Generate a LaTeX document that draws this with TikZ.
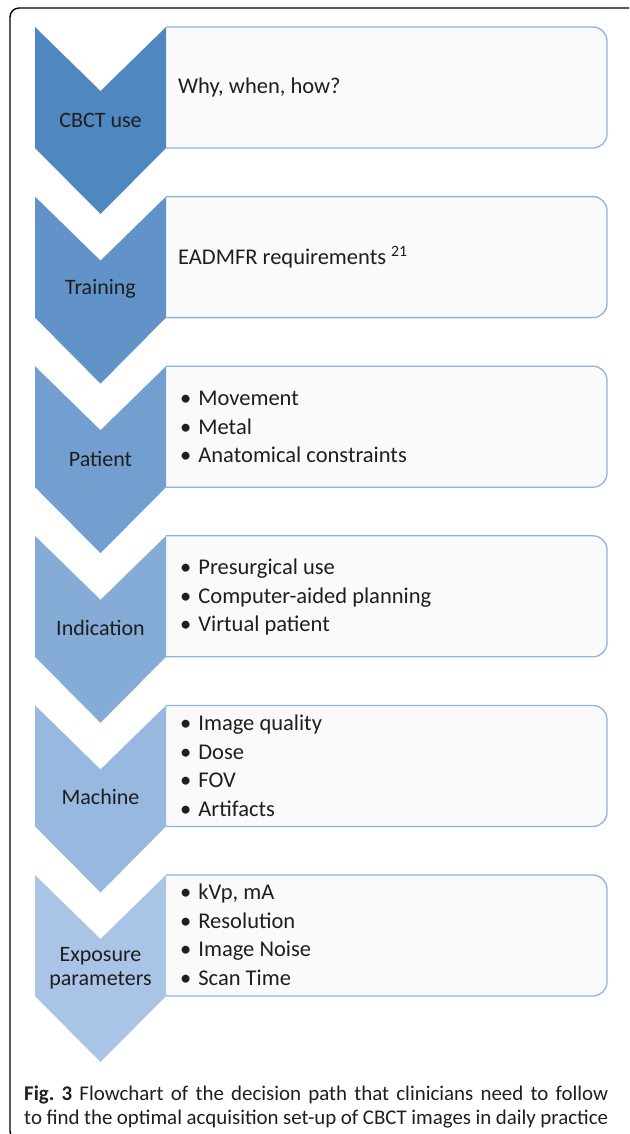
\documentclass[tikz,border=0pt]{standalone}
\usepackage{fontspec}
\setmainfont{Carlito}
\usepackage{tikz}
\frenchspacing

\definecolor{chevdark}{HTML}{4F87C1}
\definecolor{chevlight}{HTML}{A9C4E6}
\definecolor{boxline}{HTML}{8DB3E2}
\definecolor{boxfill}{HTML}{FAFAFA}
\definecolor{txt}{HTML}{1E1E1E}

\begin{document}
\begin{tikzpicture}[x=1pt,y=-1pt,
  box/.style={draw=boxline, line width=1.3pt, fill=boxfill},
  lbl/.style={font=\fontsize{22}{24}\selectfont, text=txt, align=center, inner sep=0pt},
  item/.style={font=\fontsize{22.5}{28.5}\selectfont, text=txt, align=left,
    anchor=west, inner sep=0pt},
  capt/.style={font=\fontsize{20.9}{24}\selectfont, text=txt, align=justify,
    text width=584pt, anchor=west, inner sep=0pt}]

  \clip (0,0) rectangle (629,1134);
  \draw[line width=1.4pt, rounded corners=9pt] (10,8) rectangle (650,1140);

  % boxes on the right
  \filldraw[box] (166,27) [rounded corners=14pt] -- (607,27) -- (607,148) -- (166,148);
  \filldraw[box] (166,196.6) [rounded corners=14pt] -- (607,196.6) -- (607,317.6) -- (166,317.6);
  \filldraw[box] (166,366.2) [rounded corners=14pt] -- (607,366.2) -- (607,487.2) -- (166,487.2);
  \filldraw[box] (166,535.8) [rounded corners=14pt] -- (607,535.8) -- (607,656.8) -- (166,656.8);
  \filldraw[box] (166,705.4) [rounded corners=14pt] -- (607,705.4) -- (607,826.4) -- (166,826.4);
  \filldraw[box] (166,875) [rounded corners=14pt] -- (607,875) -- (607,996) -- (166,996);

  % chevrons
  \fill[chevdark] (35,27) -- ++(65.5,64) -- ++(65.5,-64) -- ++(0,121) -- ++(-65.5,66) -- ++(-65.5,-66) -- cycle;
  \fill[chevdark!80!chevlight] (35,196.6) -- ++(65.5,64) -- ++(65.5,-64) -- ++(0,121) -- ++(-65.5,66) -- ++(-65.5,-66) -- cycle;
  \fill[chevdark!60!chevlight] (35,366.2) -- ++(65.5,64) -- ++(65.5,-64) -- ++(0,121) -- ++(-65.5,66) -- ++(-65.5,-66) -- cycle;
  \fill[chevdark!40!chevlight] (35,535.8) -- ++(65.5,64) -- ++(65.5,-64) -- ++(0,121) -- ++(-65.5,66) -- ++(-65.5,-66) -- cycle;
  \fill[chevdark!20!chevlight] (35,705.4) -- ++(65.5,64) -- ++(65.5,-64) -- ++(0,121) -- ++(-65.5,66) -- ++(-65.5,-66) -- cycle;
  \fill[chevlight] (35,875) -- ++(65.5,64) -- ++(65.5,-64) -- ++(0,121) -- ++(-65.5,66) -- ++(-65.5,-66) -- cycle;

  \node[lbl] (use) at (100.5,120) {CBCT use};
  \node[lbl] (train) at (100.5,289) {Training};
  \node[lbl] (patient) at (100.5,459) {Patient};
  \node[lbl] (indic) at (100.5,628) {Indication};
  \node[lbl] (machine) at (100.5,797) {Machine};
  \node[lbl] (expo) at (100.5,968) {Exposure\\parameters};

  \node[item] (use-txt) at (178,88) {Why, when, how?};
  \node[item] (train-txt) at (178,257) {EADMFR requirements \textsuperscript{21}};
  \node[item] (patient-txt) at (180,427) {\textbullet\hspace{7pt}Movement\\
    \textbullet\hspace{7pt}Metal\\ \textbullet\hspace{7pt}Anatomical constraints};
  \node[item] (indic-txt) at (180,597) {\textbullet\hspace{7pt}Presurgical use\\
    \textbullet\hspace{7pt}Computer-aided planning\\ \textbullet\hspace{7pt}Virtual patient};
  \node[item] (machine-txt) at (180,766) {\textbullet\hspace{7pt}Image quality\\
    \textbullet\hspace{7pt}Dose\\ \textbullet\hspace{7pt}FOV\\ \textbullet\hspace{7pt}Artifacts};
  \node[item] (expo-txt) at (180,935) {\textbullet\hspace{7pt}kVp, mA\\
    \textbullet\hspace{7pt}Resolution\\ \textbullet\hspace{7pt}Image Noise\\ \textbullet\hspace{7pt}Scan Time};

  \node[capt] (caption) at (24,1107) {\textbf{Fig.~3} Flowchart of the decision path that clinicians need to follow\linebreak
    to find the optimal acquisition set-up of CBCT images in daily practice};
\end{tikzpicture}
\end{document}
